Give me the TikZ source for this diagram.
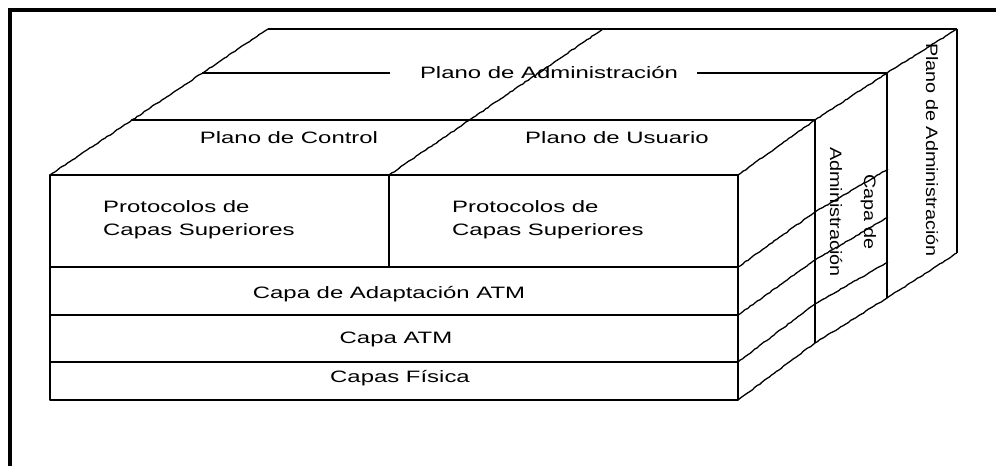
\documentclass[tikz,border=0pt]{standalone}
\usepackage{fontspec}
\setmainfont{Liberation Sans}
\newfontfamily\wfont[FakeStretch=1.45]{Liberation Sans}
\newfontfamily\vfont[FakeStretch=1.2]{Liberation Sans}
\usetikzlibrary{decorations.pathmorphing}
\begin{document}
\begin{tikzpicture}[x=1pt,y=-1pt,
  edge/.style={line width=1.3pt, line join=round},
  jag/.style={edge, decorate, decoration={random steps, segment length=3pt, amplitude=0.45pt}},
  lbl/.style={font=\fontsize{16.5}{19}\wfont, inner sep=0pt, anchor=base},
  lblw/.style={lbl, anchor=base west},
  vlbl/.style={font=\fontsize{16.5}{19}\vfont, inner sep=0pt, anchor=base, rotate=-90},
  frame/.style={line width=4pt}
]
\pgfmathsetseed{7}
\useasboundingbox (0,0) rectangle (996,466);
% frame
\coordinate (frBL) at (10,466);
\coordinate (frTL) at (10,10);
\coordinate (frTR) at (996,10);
\draw[frame] (frBL) -- (frTL) -- (frTR);

% front face
\coordinate (fA) at (50,175);
\coordinate (fB) at (738,175);
\coordinate (fC) at (738,400);
\coordinate (fD) at (50,400);
\draw[edge] (fA) rectangle (fC);
\coordinate (dv1) at (389,175);
\coordinate (dv2) at (389,267);
\draw[edge] (dv1) -- (dv2);
\foreach \yy/\nm in {267/a,315/b,362/c}{
  \coordinate (L\nm) at (50,\yy);
  \coordinate (R\nm) at (738,\yy);
  \draw[edge] (L\nm) -- (R\nm);
}

% top planes
\coordinate (t1L) at (132,120);
\coordinate (t1R) at (815,120);
\coordinate (t2L) at (202,73);
\coordinate (t2a) at (390,73);
\coordinate (t2b) at (697,73);
\coordinate (t2R) at (887,73);
\coordinate (t3L) at (268,29);
\coordinate (t3M) at (603,29);
\coordinate (t3R) at (957,29);
\draw[edge] (t1L) -- (t1R);
\draw[edge] (t2L) -- (t2a);
\draw[edge] (t2b) -- (t2R);
\draw[edge] (t3L) -- (t3R);
\draw[jag] (fA) -- (t3L);
\draw[jag] (dv1) -- (t3M);
\draw[jag] (fB) -- (t1R) -- (t2R) -- (t3R);

% right side
\coordinate (b1) at (815,343);
\coordinate (b2) at (887,298);
\coordinate (b3) at (957,253);
\draw[jag] (fC) -- (b1) -- (b2) -- (b3);
\coordinate (ma1) at (815,212); \coordinate (ma2) at (888,169);
\coordinate (mb1) at (815,260); \coordinate (mb2) at (888,217);
\coordinate (mc1) at (815,304); \coordinate (mc2) at (888,262);
\draw[jag] (Ra) -- (ma1) -- (ma2);
\draw[jag] (Rb) -- (mb1) -- (mb2);
\draw[jag] (Rc) -- (mc1) -- (mc2);
\draw[edge] (t1R) -- (b1);
\draw[edge] (t2R) -- (b2);
\draw[edge] (t3R) -- (b3);

% labels
\node[lbl] (adm) at (549,78) {Plano de Administración};
\node[lbl] (ctl) at (289,143) {Plano de Control};
\node[lbl] (usr) at (617,143) {Plano de Usuario};
\node[lblw] (p1a) at (103,212) {Protocolos de};
\node[lblw] (p1b) at (103,235) {Capas Superiores};
\node[lblw] (p2a) at (452,212) {Protocolos de};
\node[lblw] (p2b) at (452,235) {Capas Superiores};
\node[lbl] (aal) at (389,298) {Capa de Adaptación ATM};
\node[lbl] (atm) at (396,343) {Capa ATM};
\node[lbl] (fis) at (400,382) {Capas Física};
\node[vlbl] (ca1) at (864,212) {Capa de};
\node[vlbl] (ca2) at (830,212) {Administración};
\node[vlbl] (pa) at (926,150) {Plano de Administración};
\end{tikzpicture}
\end{document}
